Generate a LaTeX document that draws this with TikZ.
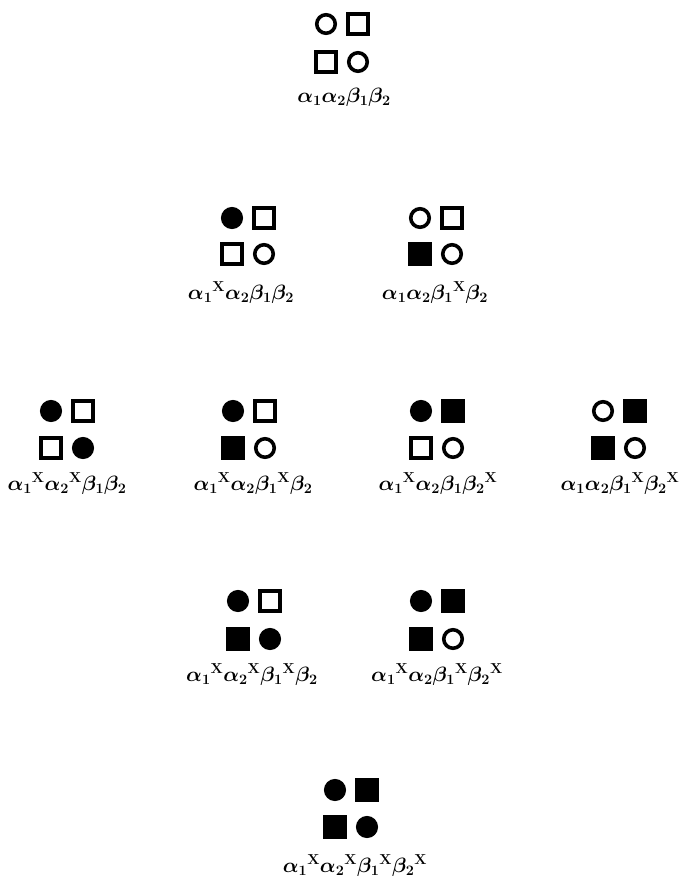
\documentclass[tikz,border=0pt]{standalone}
\usepackage{amsmath}
\begin{document}
\begin{tikzpicture}[x=1pt,y=-1pt,
  sym/.style={inner sep=0pt,outer sep=0pt,line width=3.6pt,draw=black},
  oc/.style={sym,circle,minimum size=18.5pt},
  fc/.style={sym,circle,minimum size=18.5pt,fill=black},
  os/.style={sym,rectangle,minimum size=19.5pt},
  fs/.style={sym,rectangle,minimum size=19.5pt,fill=black},
  lab/.style={inner sep=0pt,anchor=base,font=\fontsize{21.5}{25}\selectfont\boldmath}]
\fill[white] (0,0) rectangle (678,878);
\useasboundingbox (0,0) rectangle (678,878);
% #1 name, #2 cx, #3 top y, #4 bottom y, #5..#8 styles tl tr bl br, then label x, baseline y, label
\def\G#1#2#3#4#5#6#7#8#9{%
  \node[#5] (#1-tl) at (#2-16,#3) {};
  \node[#6] (#1-tr) at (#2+16,#3) {};
  \node[#7] (#1-bl) at (#2-16,#4) {};
  \node[#8] (#1-br) at (#2+16,#4) {};
  \Glab{#1}{#9}}
\def\Glab#1#2#3#4{\node[lab] (#1-lab) at (#2,#3) {$#4$};}
\def\X{{}^{\mathrm{X}}}
% row 1
\G{g1}{342}{24}{62}{oc}{os}{os}{oc}{344}{102}{\alpha_1\alpha_2\beta_1\beta_2}
% row 2
\G{g2a}{248}{218}{254}{fc}{os}{os}{oc}{241}{299}{\alpha_1\X\alpha_2\beta_1\beta_2}
\G{g2b}{436}{218}{254}{oc}{os}{fs}{oc}{435}{299}{\alpha_1\alpha_2\beta_1\X\beta_2}
% row 3
\G{g3a}{67}{411}{448}{fc}{os}{os}{fc}{67}{490}{\alpha_1\X\alpha_2\X\beta_1\beta_2}
\G{g3b}{249}{411}{448}{fc}{os}{fs}{oc}{253}{490}{\alpha_1\X\alpha_2\beta_1\X\beta_2}
\G{g3c}{437}{411}{448}{fc}{fs}{os}{oc}{438}{490}{\alpha_1\X\alpha_2\beta_1\beta_2\X}
\G{g3d}{619}{411}{448}{oc}{fs}{fs}{oc}{620}{490}{\alpha_1\alpha_2\beta_1\X\beta_2\X}
% row 4
\G{g4a}{254}{601}{639}{fc}{os}{fs}{fc}{252}{681}{\alpha_1\X\alpha_2\X\beta_1\X\beta_2}
\G{g4b}{437}{601}{639}{fc}{fs}{fs}{oc}{437}{681}{\alpha_1\X\alpha_2\beta_1\X\beta_2\X}
% row 5
\G{g5}{351}{790}{827}{fc}{fs}{fs}{fc}{355}{872}{\alpha_1\X\alpha_2\X\beta_1\X\beta_2\X}
\end{tikzpicture}
\end{document}
